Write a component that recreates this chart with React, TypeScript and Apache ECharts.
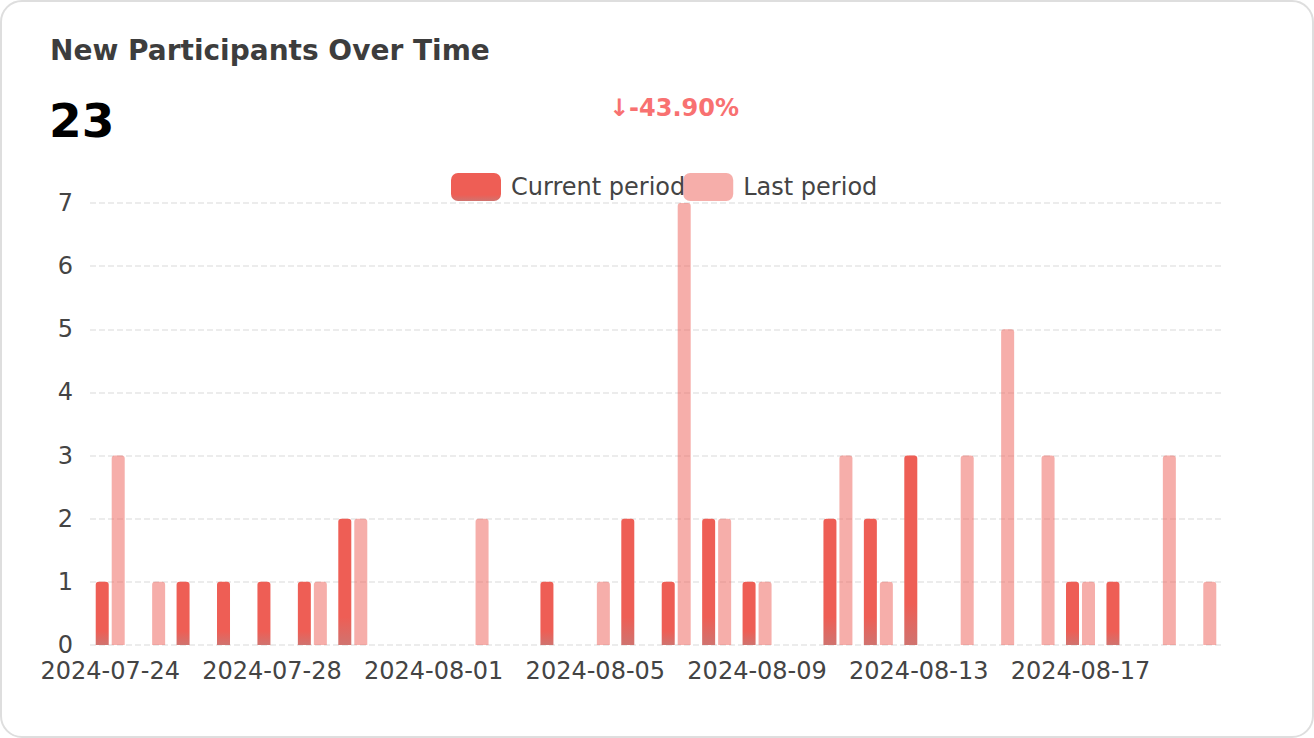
import React, { useEffect, useRef } from "react";
import * as echarts from "echarts";

const categories = [
  "2024-07-24", "2024-07-25", "2024-07-26", "2024-07-27", "2024-07-28", "2024-07-29", "2024-07-30",
  "2024-07-31", "2024-08-01", "2024-08-02", "2024-08-03", "2024-08-04", "2024-08-05", "2024-08-06",
  "2024-08-07", "2024-08-08", "2024-08-09", "2024-08-10", "2024-08-11", "2024-08-12", "2024-08-13",
  "2024-08-14", "2024-08-15", "2024-08-16", "2024-08-17", "2024-08-18", "2024-08-19", "2024-08-20",
];
const currentPeriod = [1, 0, 1, 1, 1, 1, 2, 0, 0, 0, 0, 1, 0, 2, 1, 2, 1, 0, 2, 2, 3, 0, 0, 0, 1, 1, 0, 0];
const lastPeriod = [3, 1, 0, 0, 0, 1, 2, 0, 0, 2, 0, 0, 1, 0, 7, 2, 1, 0, 3, 1, 0, 3, 5, 3, 1, 0, 3, 1];
const totalLabel = "23";
const changeLabel = "↓-43.90%";
const titleText = "New Participants Over Time";

const FONT = "'DejaVu Sans', sans-serif";

export default function App() {
  const ref = useRef<HTMLDivElement>(null);
  useEffect(() => {
    if (!ref.current) return;
    const chart = echarts.init(ref.current, null, { renderer: "svg" });
    const currentColor = new echarts.graphic.LinearGradient(0, 0, 0, 1, [
      { offset: 0, color: "#ee5e55" },
      { offset: 0.78, color: "#ee5e55" },
      { offset: 1, color: "#d0736f" },
    ]);
    chart.setOption({
      animation: false,
      textStyle: { fontFamily: FONT },
      graphic: [
        {
          type: "text",
          left: 50,
          top: 36,
          style: { text: titleText, font: `bold 28px ${FONT}`, fill: "#3d3d3d" },
        },
        {
          type: "text",
          left: 49,
          top: 97,
          style: { text: totalLabel, font: `bold 47px ${FONT}`, fill: "#000000" },
        },
        {
          type: "text",
          x: 674,
          y: 108,
          style: {
            text: changeLabel,
            font: `bold 24px ${FONT}`,
            fill: "#f87171",
            align: "center",
            verticalAlign: "middle",
          },
        },
      ],
      legend: {
        top: 173,
        left: 451,
        padding: 0,
        itemWidth: 50,
        itemHeight: 28,
        itemGap: -2,
        icon: "roundRect",
        textStyle: { fontSize: 24, color: "#444444", fontFamily: FONT, padding: [0, 0, 0, 5] },
        data: ["Current period", "Last period"],
      },
      grid: { left: 90, right: 92, top: 203, bottom: 93, containLabel: false },
      xAxis: {
        type: "category",
        data: categories,
        axisLine: { show: false },
        axisTick: { show: false },
        axisLabel: {
          interval: 3,
          fontSize: 24,
          color: "#444444",
          margin: 14,
          fontFamily: FONT,
        },
      },
      yAxis: {
        type: "value",
        min: 0,
        max: 7,
        interval: 1,
        axisLine: { show: false },
        axisTick: { show: false },
        axisLabel: { fontSize: 24, color: "#444444", margin: 17, fontFamily: FONT },
        splitLine: { lineStyle: { type: "dashed", color: "#e6e6e6", width: 1.5 } },
      },
      series: [
        {
          name: "Current period",
          type: "bar",
          data: currentPeriod,
          barWidth: 13,
          barGap: "23%",
          itemStyle: { color: currentColor, borderRadius: [3, 3, 0, 0] },
        },
        {
          name: "Last period",
          type: "bar",
          data: lastPeriod,
          barWidth: 13,
          itemStyle: { color: "rgba(238,94,85,0.5)", borderRadius: [3, 3, 0, 0] },
        },
      ],
    });
    return () => chart.dispose();
  }, []);

  return (
    <div
      style={{
        position: "fixed",
        left: 0,
        top: 0,
        width: 1314,
        height: 738,
        boxSizing: "border-box",
        border: "2px solid #dedede",
        borderRadius: 22,
        background: "#ffffff",
        overflow: "hidden",
      }}
    >
      <div ref={ref} style={{ position: "absolute", left: -2, top: -2, width: 1314, height: 738 }} />
    </div>
  );
}
